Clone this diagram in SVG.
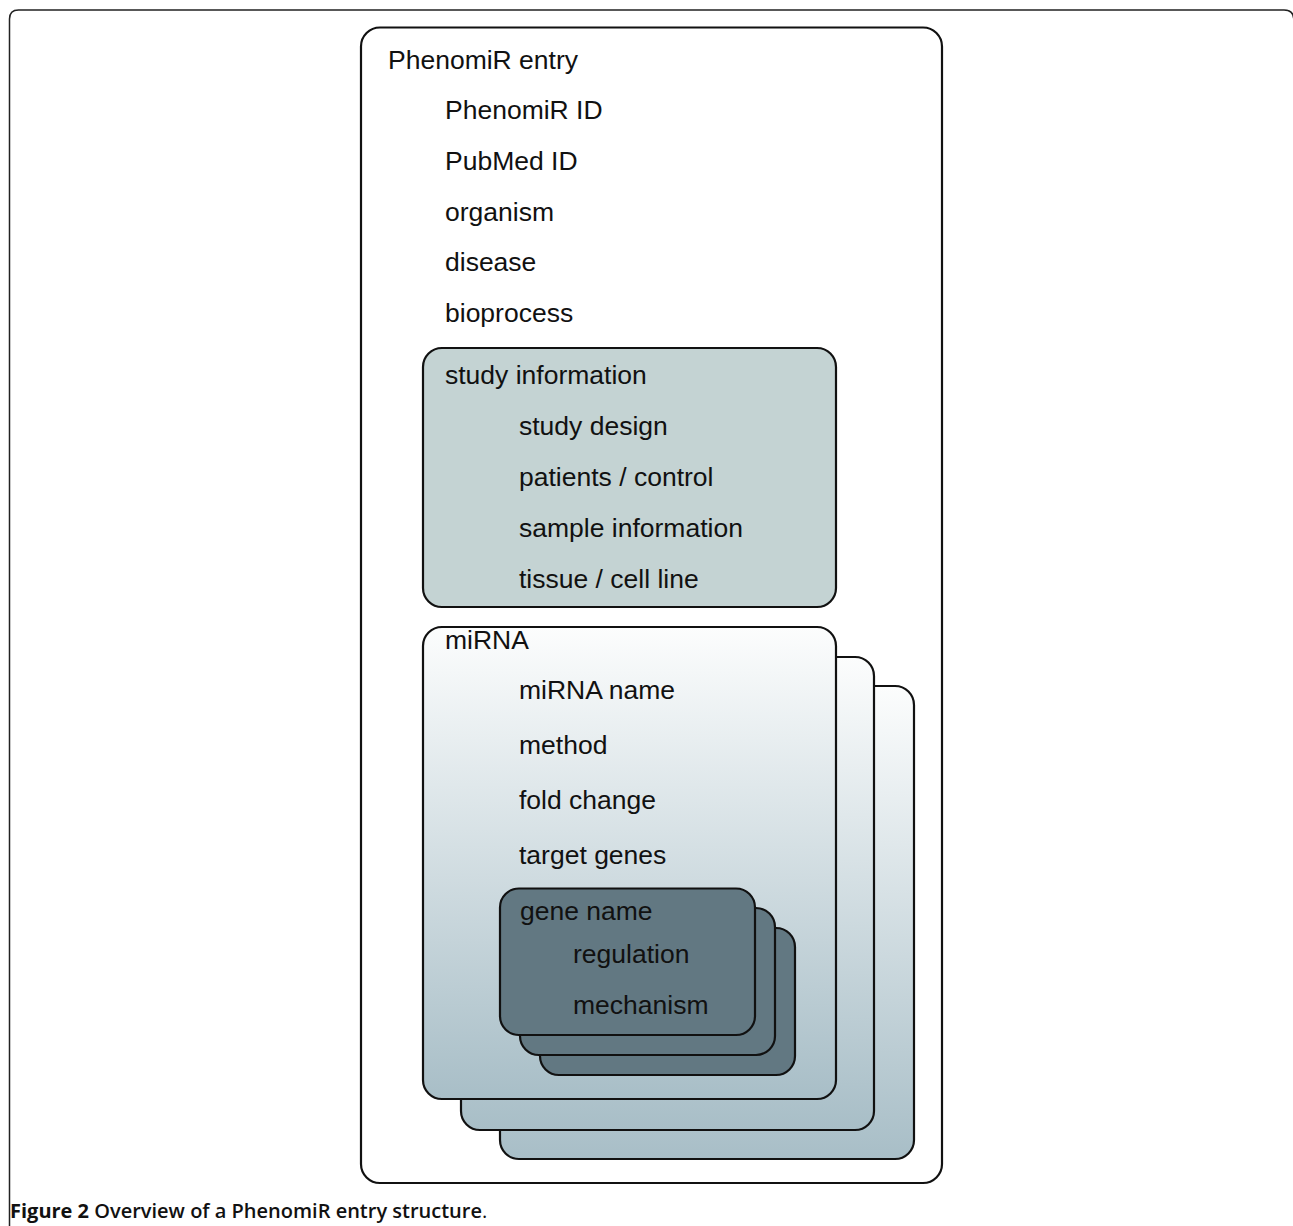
<svg xmlns="http://www.w3.org/2000/svg" width="1293" height="1226" viewBox="0 0 1293 1226">
<defs>
<linearGradient id="gMi" x1="0" y1="0" x2="0" y2="1">
<stop offset="0" stop-color="#fcfdfd"/>
<stop offset="1" stop-color="#a8bec7"/>
</linearGradient>
<style>
.t{font-family:"Liberation Sans",Arial,sans-serif;font-size:26.5px;fill:#111}
.box{stroke:#111;stroke-width:2.2}
.mi{fill:url(#gMi)}
.gene{fill:#627882}
.cap{font-family:"Open Sans","Noto Sans",sans-serif;font-size:20px;fill:#111}
</style>
</defs>
<path d="M9.5,1226 V19 Q9.5,10 18.5,10 H1284 Q1293.8,10 1293.8,20 V1226" fill="none" stroke="#222" stroke-width="1.5"/>
<g id="entry">
<rect x="361" y="27.5" width="581" height="1155.5" rx="19" fill="#fff" class="box"/>
<text class="t" x="388" y="69">PhenomiR entry</text>
<text class="t" x="445" y="119">PhenomiR ID</text>
<text class="t" x="445" y="170">PubMed ID</text>
<text class="t" x="445" y="221">organism</text>
<text class="t" x="445" y="271">disease</text>
<text class="t" x="445" y="322">bioprocess</text>
</g>
<g id="study">
<rect x="423" y="348" width="413" height="259" rx="19" fill="#c4d3d3" class="box"/>
<text class="t" x="445" y="384">study information</text>
<text class="t" x="519" y="435">study design</text>
<text class="t" x="519" y="486">patients / control</text>
<text class="t" x="519" y="537">sample information</text>
<text class="t" x="519" y="588">tissue / cell line</text>
</g>
<g id="mirna">
<rect x="500" y="686" width="414" height="473" rx="19" class="box mi"/>
<rect x="461" y="657" width="413" height="473" rx="19" class="box mi"/>
<rect x="423" y="627" width="413" height="472" rx="19" class="box mi"/>
<text class="t" x="445" y="649">miRNA</text>
<text class="t" x="519" y="699">miRNA name</text>
<text class="t" x="519" y="754">method</text>
<text class="t" x="519" y="809">fold change</text>
<text class="t" x="519" y="864">target genes</text>
</g>
<g id="gene">
<rect x="540" y="928" width="255" height="147" rx="19" class="box gene"/>
<rect x="520" y="908" width="255" height="147" rx="19" class="box gene"/>
<rect x="500" y="888.5" width="255" height="146.5" rx="19" class="box gene"/>
<text class="t" x="520" y="920">gene name</text>
<text class="t" x="573" y="963">regulation</text>
<text class="t" x="573" y="1014">mechanism</text>
</g>
<g id="connectors"></g>
<text class="cap" x="10" y="1218"><tspan font-weight="700">Figure 2</tspan><tspan font-weight="600"> Overview of a PhenomiR entry structure</tspan><tspan font-weight="400">.</tspan></text>
</svg>
